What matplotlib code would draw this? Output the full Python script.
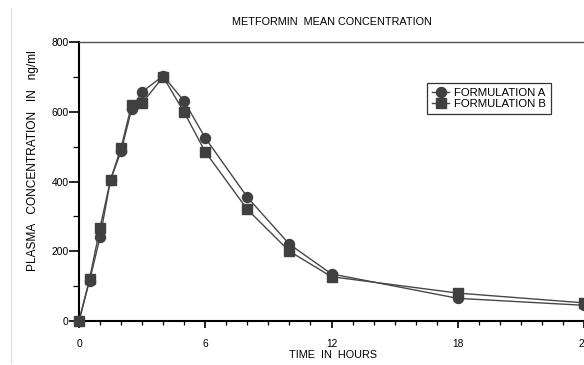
import matplotlib
matplotlib.use("Agg")
import matplotlib.pyplot as plt
from matplotlib.lines import Line2D
from matplotlib.ticker import MultipleLocator

plt.rcParams["font.family"] = ["Liberation Sans", "DejaVu Sans"]

# sampling times (hours)
TIMES = [0, 0.5, 1, 1.5, 2, 2.5, 3, 4, 5, 6, 8, 10, 12, 18, 24]
# mean plasma concentration (ng/ml)
FORM_A = [0, 115, 240, 405, 487, 607, 657, 703, 630, 525, 355, 220, 135, 65, 45]
FORM_B = [0, 120, 268, 405, 497, 620, 625, 700, 598, 485, 320, 200, 127, 80, 52]

W, H = 584, 365
fig = plt.figure(figsize=(W / 100, H / 100), dpi=100)
ax = fig.add_axes([79 / W, (H - 321) / H, (584 - 79) / W, (321 - 42) / H])

line_col = "#474747"
ax.plot(TIMES, FORM_A, color=line_col, lw=1.0, marker="o", ms=7.2,
        mfc="#404040", mec="#404040", label="FORMULATION A", clip_on=False, zorder=3)
ax.plot(TIMES, FORM_B, color=line_col, lw=1.0, marker="s", ms=7.0,
        mfc="#404040", mec="#404040", label="FORMULATION B", clip_on=False, zorder=3)

ax.set_xlim(0, 24)
ax.set_ylim(0, 800)
ax.xaxis.set_major_locator(MultipleLocator(6))
ax.xaxis.set_minor_locator(MultipleLocator(1))
ax.yaxis.set_major_locator(MultipleLocator(200))
ax.yaxis.set_minor_locator(MultipleLocator(100))

ax.tick_params(axis="x", which="major", length=5, width=1.2, pad=8, labelsize=7.4)
ax.tick_params(axis="x", which="minor", length=3, width=0.9)
ax.tick_params(axis="y", which="major", length=7, width=1.2, pad=0.5, labelsize=7.4)
ax.tick_params(axis="y", which="minor", length=4, width=0.9)

ax.spines["right"].set_visible(False)
ax.spines["left"].set_linewidth(1.5)
ax.spines["bottom"].set_linewidth(1.5)
ax.spines["top"].set_linewidth(1.0)
ax.spines["top"].set_color("#555555")

fig.text(332 / W, 1 - 22 / H, "METFORMIN  MEAN CONCENTRATION", ha="center", va="center",
         fontsize=7.8)
fig.text(333 / W, 1 - 355 / H, "TIME  IN  HOURS", ha="center", va="center", fontsize=7.8)
fig.text(33 / W, 1 - 161 / H, "PLASMA   CONCENTRATION   IN   ng/ml", ha="center", va="center",
         rotation=90, fontsize=8.6)

leg = ax.legend(loc="upper left", bbox_to_anchor=(427 / W, 1 - 83 / H),
                bbox_transform=fig.transFigure, fontsize=8.2, frameon=True,
                fancybox=False, handlelength=1.5, handletextpad=0.4,
                borderpad=0.45, labelspacing=0.05, borderaxespad=0)
leg.get_frame().set_edgecolor("black")
leg.get_frame().set_linewidth(0.9)

# faint page border on the left
fig.add_artist(Line2D([10.7 / W, 10.7 / W], [1 - 8 / H, 1 - 363 / H], color="#dddddd", lw=0.8))

fig.savefig("out.png", dpi=100)
